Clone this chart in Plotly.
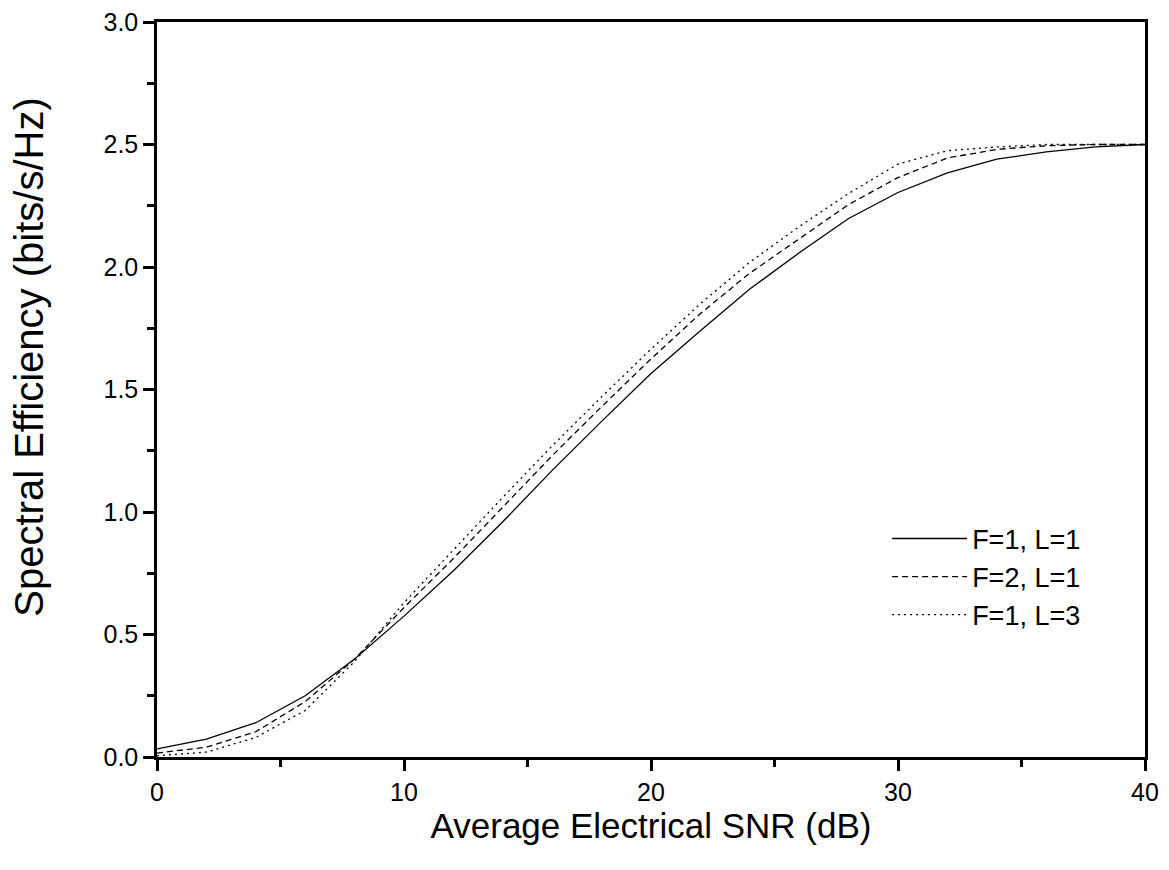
import plotly.graph_objects as go

snr_db = [0, 2, 4, 6, 8, 10, 12, 14, 16, 18, 20, 22, 24, 26, 28, 30, 32, 34, 36, 38, 40]
se_f1_l1 = [0.033, 0.073, 0.14, 0.25, 0.40, 0.575, 0.76, 0.96, 1.17, 1.37, 1.565,
            1.74, 1.91, 2.058, 2.198, 2.304, 2.384, 2.44, 2.47, 2.49, 2.50]
se_f2_l1 = [0.016, 0.04, 0.103, 0.226, 0.40, 0.61, 0.81, 1.02, 1.23, 1.43, 1.625,
            1.81, 1.975, 2.115, 2.255, 2.365, 2.445, 2.48, 2.495, 2.50, 2.50]
se_f1_l3 = [0.005, 0.02, 0.08, 0.19, 0.39, 0.63, 0.845, 1.06, 1.27, 1.47, 1.665,
            1.85, 2.02, 2.165, 2.30, 2.42, 2.475, 2.49, 2.50, 2.50, 2.50]

series = [
    ("F=1, L=1", se_f1_l1, "solid"),
    ("F=2, L=1", se_f2_l1, "6px,4px"),
    ("F=1, L=3", se_f1_l3, "2px,4px"),
]

FONT = "Liberation Sans, Arial, sans-serif"

fig = go.Figure()
for name, ys, dash in series:
    fig.add_trace(go.Scatter(x=snr_db, y=ys, mode="lines", name=name,
                             line=dict(color="black", width=1.3, dash=dash)))

axis_common = dict(showline=True, linecolor="black", linewidth=2.5,
                   showgrid=False, zeroline=False, tickcolor="black",
                   tickwidth=2.5, ticklen=11)

minor_out = dict(ticks="outside", ticklen=7, tickwidth=2.5, tickcolor="black")
minor_in = dict(ticks="inside", ticklen=7, tickwidth=2.5, tickcolor="black")

fig.update_layout(
    width=1169, height=870,
    margin=dict(l=149, r=32, t=14, b=121, autoexpand=False),
    paper_bgcolor="white", plot_bgcolor="white",
    font=dict(family=FONT, color="black"),
    showlegend=True,
    legend=dict(x=0.739, y=0.33, xanchor="left", yanchor="top",
                bgcolor="rgba(0,0,0,0)", font=dict(size=27, family=FONT),
                itemwidth=75, tracegroupgap=0),
    xaxis=dict(range=[0, 40], dtick=10, tick0=0, ticks="outside", mirror=True,
               tickfont=dict(size=25), ticklabeloverflow="allow",
               title=dict(text="Average Electrical SNR (dB)", font=dict(size=35), standoff=6),
               minor=dict(dtick=5, **minor_out),
               **axis_common),
    yaxis=dict(range=[0, 3.0], dtick=0.5, tick0=0, ticks="outside", mirror=True,
               tickformat=".1f", tickfont=dict(size=25), ticklabeloverflow="allow",
               minor=dict(dtick=0.25, **minor_out),
               **axis_common),
    xaxis2=dict(range=[0, 40], dtick=10, tick0=0, overlaying="x", side="top",
                ticks="inside", showticklabels=False,
                minor=dict(dtick=5, **minor_in),
                **axis_common),
    yaxis2=dict(range=[0, 3.0], dtick=0.5, tick0=0, overlaying="y", side="right",
                ticks="inside", showticklabels=False,
                minor=dict(dtick=0.25, **minor_in),
                **axis_common),
    annotations=[dict(text="Spectral Efficiency (bits/s/Hz)", textangle=-90,
                      xref="paper", yref="paper", x=-0.129, y=0.544,
                      xanchor="center", yanchor="middle", showarrow=False,
                      font=dict(size=40, family=FONT, color="black"))],
)

fig.write_html("out.html")
